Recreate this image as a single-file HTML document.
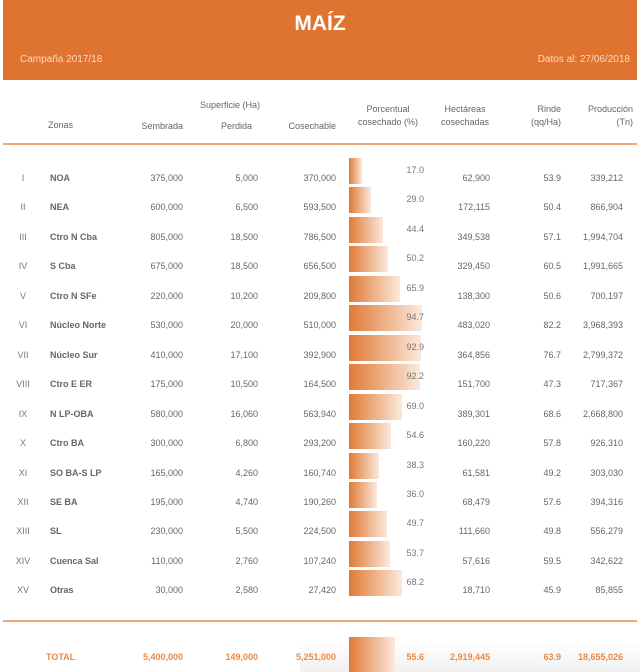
<!DOCTYPE html>
<html><head><meta charset="utf-8"><style>
body{margin:0;width:640px;height:672px;background:#fff;position:relative;overflow:hidden;font-family:"Liberation Sans",sans-serif;}
.hd{position:absolute;left:3px;top:0;width:634px;height:80px;background:#DE742F;color:#fff;}
.t{position:absolute;white-space:nowrap;font-size:9px;color:#666;}
.r{text-align:right;}
.c{text-align:center;}
.bar{position:absolute;left:349px;height:26px;background:linear-gradient(to right,#E07A35,#fbe9dc);}
.tot{color:#E88A45;font-weight:bold;}
</style></head><body>
<div class="hd">
<div style="position:absolute;left:0;width:634px;top:12px;text-align:center;font-size:21px;font-weight:bold;">MAÍZ</div>
<div style="position:absolute;left:17px;top:54px;font-size:10px;color:#f7d9c3;">Campaña 2017/18</div>
<div style="position:absolute;right:7px;top:54px;font-size:10px;color:#f7d9c3;">Datos al: 27/06/2018</div>
</div>
<div class="t c" style="left:190px;width:80px;top:100px;">Superficie (Ha)</div>
<div class="t" style="left:48px;top:120px;">Zonas</div>
<div class="t r" style="left:100px;width:83px;top:121px;">Sembrada</div>
<div class="t r" style="left:180px;width:72px;top:121px;">Perdida</div>
<div class="t r" style="left:250px;width:86px;top:121px;">Cosechable</div>
<div class="t c" style="left:348px;width:80px;top:103px;line-height:13px;">Porcentual<br>cosechado (%)</div>
<div class="t c" style="left:430px;width:70px;top:103px;line-height:13px;">Hectáreas<br>cosechadas</div>
<div class="t r" style="left:500px;width:61px;top:103px;line-height:13px;">Rinde<br>(qq/Ha)</div>
<div class="t r" style="left:560px;width:73px;top:103px;line-height:13px;">Producción<br>(Tn)</div>
<div style="position:absolute;left:3px;width:634px;top:143px;height:2px;background:#F0A778;"></div>
<div style="position:absolute;left:3px;width:634px;top:620px;height:2px;background:#F0A778;"></div>
<div style="position:absolute;left:300px;width:340px;top:622px;height:50px;background:linear-gradient(to bottom,#fff 40%,#f1f1f1);"></div>
<div id="rows"></div>
<script>
var d=[["I","NOA","375,000","5,000","370,000",17.0,"62,900","53.9","339,212"],
["II","NEA","600,000","6,500","593,500",29.0,"172,115","50.4","866,904"],
["III","Ctro N Cba","805,000","18,500","786,500",44.4,"349,538","57.1","1,994,704"],
["IV","S Cba","675,000","18,500","656,500",50.2,"329,450","60.5","1,991,665"],
["V","Ctro N SFe","220,000","10,200","209,800",65.9,"138,300","50.6","700,197"],
["VI","Núcleo Norte","530,000","20,000","510,000",94.7,"483,020","82.2","3,968,393"],
["VII","Núcleo Sur","410,000","17,100","392,900",92.9,"364,856","76.7","2,799,372"],
["VIII","Ctro E ER","175,000","10,500","164,500",92.2,"151,700","47.3","717,367"],
["IX","N LP-OBA","580,000","16,060","563,940",69.0,"389,301","68.6","2,668,800"],
["X","Ctro BA","300,000","6,800","293,200",54.6,"160,220","57.8","926,310"],
["XI","SO BA-S LP","165,000","4,260","160,740",38.3,"61,581","49.2","303,030"],
["XII","SE BA","195,000","4,740","190,260",36.0,"68,479","57.6","394,316"],
["XIII","SL","230,000","5,500","224,500",49.7,"111,660","49.8","556,279"],
["XIV","Cuenca Sal","110,000","2,760","107,240",53.7,"57,616","59.5","342,622"],
["XV","Otras","30,000","2,580","27,420",68.2,"18,710","45.9","85,855"]];
var h="";
function t(x,w,y,s,cls,st){return '<div class="t '+(cls||'')+'" style="left:'+x+'px;width:'+w+'px;top:'+y+'px;'+(st||'')+'">'+s+'</div>';}
d.forEach(function(r,i){var c=179+i*29.45,y=c-6,bt=158+i*29.45;
h+=t(8,30,y,r[0],'c','color:#777');
h+=t(50,90,y,r[1],'','color:#666;font-weight:bold;');
h+=t(100,83,y,r[2],'r');h+=t(180,78,y,r[3],'r');h+=t(250,86,y,r[4],'r');
h+='<div class="bar" style="top:'+bt+'px;width:'+(r[5]*0.77).toFixed(1)+'px"></div>';
h+=t(380,44,y-8,r[5].toFixed(1),'r','color:#777');
h+=t(420,70,y,r[6],'r');h+=t(500,61,y,r[7],'r');h+=t(560,63,y,r[8],'r');});
var y=652;
h+='<div class="bar" style="top:637px;width:46px;height:35px"></div>';
h+=t(46,60,y,'TOTAL','tot');h+=t(100,83,y,'5,400,000','r tot');h+=t(180,78,y,'149,000','r tot');h+=t(250,86,y,'5,251,000','r tot');
h+=t(380,44,y,'55.6','r tot');h+=t(420,70,y,'2,919,445','r tot');h+=t(500,61,y,'63.9','r tot');h+=t(560,63,y,'18,655,026','r tot');
document.getElementById('rows').innerHTML=h;
</script>
</body></html>
